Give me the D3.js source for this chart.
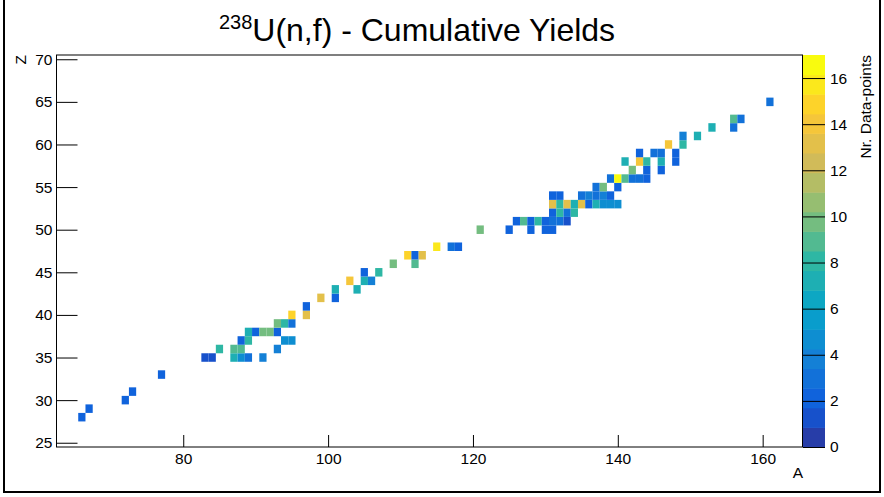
<!DOCTYPE html>
<meta charset="utf-8">
<html>
<head>
<title>238U(n,f) - Cumulative Yields</title>
<script src="https://d3js.org/d3.v7.min.js"></script>
<style>
body { margin: 0; background: #fff; }
text { font-family: "Liberation Sans", Arial, sans-serif; fill: #000; }
.axis path { display: none; }
.axis line { stroke: #000; stroke-width: 1px; }
</style>
</head>
<body>
<script>

// one entry per filled cell: mass number A, charge Z, number of data-points
var massA   = [66, 67, 72, 73, 77,
               83, 84, 87, 88, 89, 91,
               85, 87, 88, 93,
               88, 89, 94, 95,
               89, 90, 91, 92, 93,
               93, 94, 95,
               95, 97, 97,
               99, 101, 101, 104,
               103, 105, 106, 105, 107,
               109, 112, 111, 112, 113,
               115, 117, 118,
               121, 125, 128, 130, 131,
               126, 127, 128, 129, 130, 131, 132, 133,
               131, 132, 133, 134,
               131, 132, 133, 134, 135, 136, 137, 138, 139, 140,
               131, 132, 135, 136, 137, 138, 139,
               137, 138, 140,
               139, 140, 141, 142, 143, 144,
               142, 144, 146,
               141, 143, 144, 146, 148,
               143, 145, 146, 148,
               147, 149, 149, 151,
               153, 156, 156, 157, 161];
var chargeZ = [28, 29, 30, 31, 33,
               35, 35, 35, 35, 35, 35,
               36, 36, 36, 36,
               37, 37, 37, 37,
               38, 38, 38, 38, 38,
               39, 39, 39,
               40, 40, 41,
               42, 42, 43, 43,
               44, 44, 44, 45, 45,
               46, 46, 47, 47, 47,
               48, 48, 48,
               50, 50, 50, 50, 50,
               51, 51, 51, 51, 51, 51, 51, 51,
               52, 52, 52, 52,
               53, 53, 53, 53, 53, 53, 53, 53, 53, 53,
               54, 54, 54, 54, 54, 54, 54,
               55, 55, 55,
               56, 56, 56, 56, 56, 56,
               57, 57, 57,
               58, 58, 58, 58, 58,
               59, 59, 59, 59,
               60, 60, 61, 61,
               62, 62, 63, 63, 65];
var nPoints = [2, 2, 2, 2, 2,
               1, 1, 7, 5, 3, 4,
               8, 9, 9, 4,
               2, 8, 5, 5,
               7, 2, 10, 10, 2,
               10, 8, 3,
               15, 13, 2,
               13, 2, 7, 7,
               14, 7, 4, 2, 8,
               10, 9, 15, 2, 13,
               16, 3, 2,
               10, 2, 2, 2, 2,
               2, 9, 2, 8, 2, 3, 3, 1,
               2, 8, 3, 8,
               13, 8, 13, 7, 13, 2, 7, 5, 5, 5,
               2, 2, 3, 4, 3, 4, 2,
               3, 10, 2,
               3, 17, 9, 3, 3, 2,
               10, 2, 2,
               7, 14, 8, 7, 2,
               2, 3, 3, 2,
               14, 8, 4, 7,
               7, 3, 9, 3, 3];

var xTicks = [80, 100, 120, 140, 160];
var yTicks = [25, 30, 35, 40, 45, 50, 55, 60, 65, 70];
var zTicks = [0, 2, 4, 6, 8, 10, 12, 14, 16];

var zMax = 17, nLevels = 20;

// ROOT "kBird" palette stops
var stops = [0.0, 0.125, 0.25, 0.375, 0.5, 0.625, 0.75, 0.875, 1.0];
var red   = [0.2082, 0.0592, 0.0780, 0.0232, 0.1802, 0.5301, 0.8186, 0.9956, 0.9764];
var green = [0.1664, 0.3599, 0.5041, 0.6419, 0.7178, 0.7492, 0.7328, 0.7862, 0.9832];
var blue  = [0.5293, 0.8684, 0.8385, 0.7914, 0.6425, 0.4662, 0.3499, 0.1968, 0.0539];

function bird(t) {
  var i = 0;
  while (i < stops.length - 2 && t > stops[i + 1]) i++;
  var f = (t - stops[i]) / (stops[i + 1] - stops[i]);
  var c = function (a) { return Math.round(255 * (a[i] + f * (a[i + 1] - a[i]))); };
  return d3.rgb(c(red), c(green), c(blue)).toString();
}

// colour of contour level, same rule as ROOT uses
function levelColor(lev) {
  var idx = Math.floor((lev + 0.99) * 255 / nLevels);
  return bird(Math.min(idx, 254) / 254);
}
function valueColor(v) {
  var lev = Math.floor(v / (zMax / nLevels));
  return levelColor(Math.max(0, Math.min(nLevels - 1, lev)));
}

var W = 884, H = 497;
var svg = d3.select("body").append("svg").attr("width", W).attr("height", H);
svg.append("rect").attr("width", W).attr("height", H).attr("fill", "#fff");

var x = d3.scaleLinear().domain([62.5, 165.5]).range([56.5, 802.5]);
var y = d3.scaleLinear().domain([24.5, 70.5]).range([447, 55]);
var zc = d3.scaleLinear().domain([0, zMax]).range([447, 55]);

// cells
var cells = d3.range(massA.length).map(function (i) {
  return {a: massA[i], z: chargeZ[i], n: nPoints[i]};
});
svg.append("g").selectAll("rect")
  .data(cells)
  .enter()
  .append("rect")
    .attr("x", function (d) { return x(d.a - 0.5); })
    .attr("y", function (d) { return y(d.z + 0.5); })
    .attr("width", function (d) { return x(d.a + 0.5) - x(d.a - 0.5); })
    .attr("height", function (d) { return y(d.z - 0.5) - y(d.z + 0.5); })
    .attr("fill", function (d) { return valueColor(d.n); });

// x axis, ticks inside
var xAxisG = svg.append("g").attr("class", "axis").attr("transform", "translate(0,447)");
xAxisG.call(d3.axisBottom(x).tickValues(d3.range(65, 166, 5)).tickSize(-6).tickFormat(""));
xAxisG.call(d3.axisBottom(x).tickValues(xTicks).tickSize(-12).tickPadding(6).tickFormat(d3.format("d")));
xAxisG.selectAll("text").style("font-size", "15.5px").attr("y", 6).attr("dy", "0.71em");

// y axis, ticks inside
var yAxisG = svg.append("g").attr("class", "axis").attr("transform", "translate(56.5,0)");
yAxisG.call(d3.axisLeft(y).tickValues(d3.range(25, 71, 1)).tickSize(-10.5).tickFormat(""));
yAxisG.call(d3.axisLeft(y).tickValues(yTicks).tickSize(-21).tickPadding(4).tickFormat(d3.format("d")));
yAxisG.selectAll("text").style("font-size", "15.5px").attr("x", -4);

// frame
svg.append("rect")
  .attr("x", 56.5).attr("y", 55).attr("width", 746).attr("height", 392)
  .attr("fill", "none").attr("stroke", "#000").attr("stroke-width", 1);

// palette
svg.append("g").selectAll("rect")
  .data(d3.range(nLevels))
  .enter()
  .append("rect")
    .attr("x", 803)
    .attr("y", function (d) { return zc((d + 1) * zMax / nLevels); })
    .attr("width", 22)
    .attr("height", function (d) { return zc(d * zMax / nLevels) - zc((d + 1) * zMax / nLevels) + 0.5; })
    .attr("fill", function (d) { return levelColor(d); });

var zAxisG = svg.append("g").attr("class", "axis").attr("transform", "translate(825,0)");
zAxisG.call(d3.axisRight(zc).tickValues(zTicks).tickSize(-22).tickPadding(5).tickFormat(d3.format("d")));
zAxisG.selectAll("text").style("font-size", "15.5px").attr("x", 5);

// axis titles
svg.append("text")
  .attr("x", 803).attr("y", 478)
  .attr("text-anchor", "end")
  .style("font-size", "15.5px")
  .text("A");
svg.append("text")
  .attr("transform", "translate(25.5,55) rotate(-90)")
  .attr("text-anchor", "end")
  .style("font-size", "15.5px")
  .text("Z");
svg.append("text")
  .attr("transform", "translate(871,55) rotate(-90)")
  .attr("text-anchor", "end")
  .style("font-size", "15.5px")
  .text("Nr. Data-points");

// title
var title = svg.append("text")
  .attr("x", 417).attr("y", 41)
  .attr("text-anchor", "middle")
  .style("font-size", "32px");
title.append("tspan").style("font-size", "20px").attr("dy", -12).text("238");
title.append("tspan").attr("dy", 12).text("U(n,f) - Cumulative Yields");

// outer border
svg.append("path")
  .attr("d", "M4,0V492H880V0")
  .attr("fill", "none").attr("stroke", "#000").attr("stroke-width", 2);

</script>
</body>
</html>
